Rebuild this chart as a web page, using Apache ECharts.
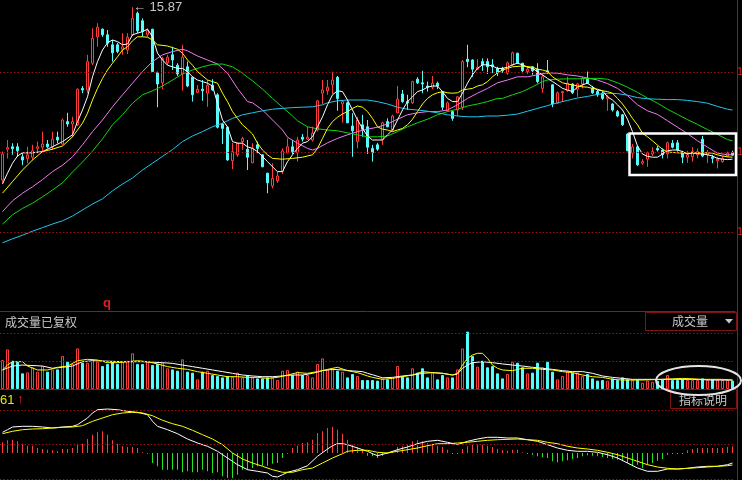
<!DOCTYPE html>
<html><head><meta charset="utf-8">
<script src="https://cdn.jsdelivr.net/npm/echarts@6/dist/echarts.min.js"></script>
<style>html,body{margin:0;padding:0;background:#000;}#c{width:742px;height:480px;}</style>
</head><body><div id="c"></div>
<script>
// ---- price candles (open, close, low, high) ----
const opens = [11.55,12.32,12.38,12.38,12.13,12.09,12.12,12.34,12.37,12.45,12.38,12.62,12.45,13.01,12.95,12.93,13.84,13.80,14.47,15.13,15.32,15.18,14.93,14.93,14.82,14.80,15.18,15.72,15.53,15.18,15.32,14.23,13.98,14.48,14.68,14.42,14.20,14.38,14.12,13.74,13.82,13.72,13.92,13.68,12.95,12.87,12.03,12.18,12.51,12.32,
11.98,12.43,12.18,11.72,11.40,11.53,11.76,12.23,12.38,12.23,12.62,12.57,12.55,12.80,13.72,13.78,13.93,14.12,13.45,13.48,12.90,12.51,12.93,12.88,12.34,12.43,12.57,13.01,12.80,13.23,13.70,13.51,13.48,14.07,13.98,13.90,13.87,13.97,13.76,13.28,13.26,13.30,13.37,14.57,14.55,14.32,14.51,14.51,14.43,14.34,
14.34,14.22,14.43,14.72,14.47,14.26,14.38,14.32,13.84,14.28,13.93,13.47,13.73,13.78,13.95,13.82,13.95,14.07,13.84,13.76,13.72,13.59,13.45,13.26,13.18,12.70,12.22,12.38,11.97,12.07,12.20,12.34,12.30,12.20,12.47,12.48,12.23,12.12,12.13,12.18,12.57,12.18,12.12,12.03,12.01,12.15,12.23];
const closes = [12.20,12.36,12.33,12.28,12.05,12.18,12.28,12.38,12.45,12.38,12.57,12.55,13.05,12.95,13.01,13.82,13.80,14.51,15.09,15.37,15.18,14.97,14.73,14.76,14.88,15.12,15.59,15.28,15.26,15.28,14.26,13.95,14.59,14.62,14.55,14.20,14.62,13.90,13.68,13.82,13.78,13.92,13.80,12.87,12.84,12.05,12.26,12.47,12.59,12.12,
12.34,12.34,11.88,11.48,11.59,11.65,12.28,12.38,12.26,12.55,12.57,12.62,12.72,13.53,13.80,13.87,14.05,13.59,13.51,12.98,12.78,13.05,12.82,12.37,12.23,12.32,12.98,12.88,13.15,13.57,13.51,13.48,14.01,13.98,13.95,13.87,13.97,13.90,13.37,13.48,13.09,13.63,14.51,14.51,14.32,14.37,14.43,14.38,14.38,14.23,
14.28,14.48,14.73,14.47,14.28,14.32,14.28,14.01,14.13,14.23,13.45,13.73,13.76,13.97,13.73,13.95,14.09,13.97,13.73,13.68,13.59,13.63,13.30,13.15,12.93,12.28,12.38,11.93,12.01,12.23,12.26,12.30,12.18,12.48,12.37,12.30,12.12,12.18,12.26,12.26,12.15,12.23,12.09,12.07,12.09,12.22,12.17];
const lows = [11.48,12.09,12.18,12.13,11.92,11.97,12.05,12.22,12.26,12.34,12.30,12.47,12.43,12.88,12.62,12.90,13.72,13.72,14.42,14.88,15.13,14.88,14.51,14.72,14.68,14.70,15.15,15.22,15.13,15.13,14.25,13.37,13.82,14.42,14.30,14.15,13.78,13.87,13.51,13.72,13.53,13.38,13.78,12.84,12.45,12.03,11.82,12.13,12.30,11.80,
11.97,12.22,11.87,11.22,11.34,11.48,11.70,12.22,12.20,12.01,12.51,12.55,12.51,12.76,13.45,13.68,13.70,13.28,12.98,12.97,12.13,12.34,12.63,12.20,12.01,12.28,12.43,12.87,12.76,13.22,13.48,13.30,13.45,13.95,13.72,13.76,13.82,13.82,13.30,13.26,13.03,13.15,13.30,14.37,14.13,14.30,14.28,14.20,14.22,14.15,
14.23,14.18,14.40,14.45,14.22,14.20,14.18,13.97,13.73,14.20,13.37,13.45,13.51,13.76,13.70,13.63,13.84,13.95,13.70,13.63,13.55,13.28,13.26,13.12,12.90,12.27,12.09,11.90,11.93,11.88,12.15,12.26,12.09,12.09,12.34,12.26,11.97,11.98,12.01,12.09,12.12,11.97,11.97,11.84,11.98,12.12,12.15];
const highs = [12.26,12.55,12.47,12.47,12.22,12.38,12.43,12.51,12.76,12.55,12.76,12.76,13.09,13.23,13.13,13.84,13.90,14.68,15.34,15.47,15.34,15.30,15.05,14.98,15.22,15.22,15.87,15.76,15.59,15.34,15.33,14.26,14.63,14.68,14.88,14.47,14.93,14.51,14.13,13.92,14.05,14.05,14.07,13.72,12.98,12.88,12.48,12.48,12.63,12.55,
12.47,12.51,12.20,11.73,11.97,11.76,12.34,12.59,12.55,12.63,12.70,12.88,12.88,13.55,14.05,14.05,14.26,14.15,13.53,13.51,13.22,13.12,13.18,13.05,12.43,12.48,13.01,13.09,13.18,13.90,13.80,13.68,14.03,14.12,14.28,14.01,14.15,14.01,13.78,13.51,13.30,13.65,14.55,14.93,14.57,14.57,14.59,14.59,14.57,14.38,
14.38,14.51,14.76,14.73,14.48,14.37,14.40,14.47,14.18,14.55,13.95,13.76,13.78,14.13,13.97,13.98,14.13,14.26,13.90,13.80,13.76,13.68,13.47,13.30,13.20,12.72,12.45,12.40,12.07,12.26,12.37,12.40,12.34,12.51,12.55,12.55,12.28,12.28,12.37,12.34,12.65,12.30,12.18,12.13,12.15,12.26,12.28];

// ---- price moving averages, read at sample candles: [candle index, value] ----
const ma5 = [[0,11.45],[1,11.72],[2,11.97],[3,12.15],[4,12.23],[6,12.23],[8,12.26],[10,12.38],[12,12.51],[14,12.68],[15,13.01],[16,13.30],[17,13.63],[18,14.13],[19,14.51],[20,14.80],[21,14.98],[22,15.05],[23,15.01],[24,14.93],[25,14.95],[26,15.18],[27,15.22],[28,15.26],[29,15.32],[30,15.13],[31,14.72],[32,14.55],[33,14.42],[34,14.38],[35,14.34],[36,14.34],[37,14.26],[38,14.13],[39,14.05],[40,14.01],[41,13.97],[42,13.90],[43,13.47],[44,13.05],[45,12.88],[46,12.51],[47,12.47],[48,12.47],[49,12.38],[50,12.34],[51,12.26],[53,12.01],[54,11.88],[55,11.76],[56,11.76],[57,12.01],[58,12.18],[59,12.34],[60,12.47],[61,12.51],[62,12.63],[63,12.88],[64,13.13],[65,13.43],[66,13.68],[67,13.78],[68,13.76],[69,13.55],[70,13.30],[71,13.05],[72,12.84],[73,12.65],[74,12.55],[75,12.55],[76,12.55],[77,12.68],[78,12.80],[79,13.05],[80,13.30],[81,13.51],[82,13.63],[83,13.76],[84,13.80],[85,13.87],[86,13.90],[87,13.90],[88,13.76],[89,13.59],[90,13.51],[91,13.51],[92,13.72],[93,13.97],[94,14.18],[95,14.34],[96,14.43],[97,14.43],[98,14.40],[99,14.34],[100,14.34],[101,14.37],[102,14.43],[103,14.47],[104,14.43],[105,14.37],[106,14.34],[107,14.26],[108,14.18],[109,14.09],[110,14.01],[111,13.93],[112,13.84],[113,13.80],[114,13.76],[115,13.87],[116,13.93],[117,13.97],[118,13.88],[119,13.80],[120,13.78],[121,13.63],[122,13.55],[123,13.43],[124,13.30],[125,13.07],[126,12.76],[127,12.40],[128,12.20],[129,12.14],[130,12.12],[131,12.12],[132,12.20],[133,12.28],[134,12.30],[135,12.30],[136,12.26],[137,12.20],[138,12.23],[139,12.21],[140,12.20],[141,12.18],[142,12.15],[143,12.09],[144,12.07],[145,12.06],[146,12.07]];
const ma10 = [[0,11.22],[2,11.51],[4,11.80],[6,12.05],[8,12.26],[10,12.32],[12,12.40],[14,12.63],[16,12.97],[17,13.22],[18,13.55],[19,13.84],[20,14.09],[21,14.30],[22,14.47],[23,14.63],[24,14.80],[25,14.88],[26,15.03],[27,15.13],[28,15.13],[29,15.12],[30,15.05],[31,14.93],[33,14.90],[35,14.82],[36,14.72],[37,14.55],[38,14.42],[39,14.26],[41,14.05],[42,14.01],[43,13.97],[44,13.72],[45,13.51],[46,13.26],[47,13.09],[48,12.93],[49,12.82],[50,12.70],[51,12.47],[52,12.30],[53,12.18],[54,12.09],[56,12.07],[58,12.09],[60,12.12],[62,12.18],[63,12.34],[64,12.59],[65,12.84],[66,13.01],[67,13.12],[68,13.20],[69,13.26],[70,13.34],[71,13.40],[72,13.37],[73,13.26],[74,13.09],[75,12.88],[76,12.82],[77,12.80],[78,12.76],[79,12.80],[80,12.84],[81,12.93],[82,13.07],[83,13.26],[84,13.45],[85,13.59],[86,13.68],[87,13.73],[88,13.76],[89,13.73],[90,13.72],[91,13.73],[92,13.80],[93,13.82],[94,13.84],[95,13.90],[96,13.93],[97,14.01],[98,14.13],[99,14.23],[100,14.30],[101,14.34],[102,14.38],[104,14.40],[106,14.37],[107,14.32],[108,14.30],[109,14.26],[110,14.13],[111,14.05],[112,13.98],[113,13.95],[114,13.93],[115,13.90],[116,13.88],[117,13.87],[118,13.84],[119,13.82],[120,13.78],[121,13.76],[122,13.72],[123,13.59],[124,13.45],[125,13.28],[126,13.09],[127,12.93],[128,12.72],[129,12.63],[130,12.53],[131,12.42],[132,12.32],[133,12.25],[135,12.23],[137,12.22],[139,12.23],[141,12.23],[142,12.22],[143,12.18],[144,12.15],[145,12.13],[146,12.12]];
const ma20 = [[0,10.76],[2,11.03],[4,11.22],[6,11.38],[8,11.56],[10,11.76],[12,11.92],[14,12.13],[16,12.43],[18,12.76],[20,13.05],[22,13.38],[24,13.68],[26,13.97],[28,14.26],[30,14.51],[32,14.68],[34,14.76],[36,14.82],[37,14.78],[39,14.65],[41,14.55],[43,14.45],[45,14.22],[47,13.84],[49,13.51],[50,13.48],[52,13.30],[54,13.05],[56,12.80],[57,12.62],[59,12.47],[61,12.34],[62,12.30],[63,12.34],[65,12.48],[67,12.59],[69,12.68],[71,12.76],[73,12.82],[75,12.87],[77,12.95],[79,13.07],[81,13.18],[83,13.23],[85,13.26],[87,13.26],[89,13.30],[91,13.43],[93,13.59],[95,13.72],[97,13.84],[99,13.98],[101,14.05],[103,14.13],[105,14.13],[107,14.18],[109,14.23],[111,14.22],[113,14.18],[115,14.15],[117,14.10],[119,14.05],[121,13.96],[123,13.84],[125,13.66],[127,13.43],[129,13.28],[131,13.19],[133,13.03],[135,12.87],[137,12.71],[139,12.53],[141,12.37],[143,12.22],[145,12.18],[146,12.18]];
const ma30 = [[0,10.45],[2,10.68],[4,10.84],[6,10.97],[8,11.13],[10,11.30],[12,11.48],[14,11.75],[16,12.00],[18,12.27],[20,12.58],[22,12.93],[24,13.18],[26,13.47],[28,13.68],[30,13.78],[32,13.90],[34,14.05],[36,14.20],[38,14.30],[40,14.38],[42,14.44],[44,14.45],[46,14.38],[48,14.22],[49,14.12],[50,14.03],[52,13.82],[54,13.59],[56,13.37],[58,13.15],[59,13.03],[61,12.88],[63,12.83],[65,12.80],[67,12.78],[69,12.73],[71,12.68],[73,12.63],[75,12.63],[77,12.65],[79,12.76],[81,12.88],[83,12.98],[85,13.07],[87,13.18],[89,13.26],[91,13.32],[93,13.40],[95,13.45],[97,13.51],[99,13.59],[100,13.59],[102,13.68],[104,13.76],[106,13.88],[108,14.01],[109,14.05],[111,14.07],[113,14.08],[115,14.08],[117,14.09],[119,14.09],[121,14.07],[123,13.98],[125,13.87],[127,13.74],[129,13.60],[131,13.47],[133,13.32],[135,13.19],[137,13.06],[139,12.94],[141,12.81],[143,12.69],[145,12.56],[146,12.53]];
const ma60 = [[0,9.98],[2,10.08],[4,10.17],[6,10.27],[8,10.36],[10,10.45],[12,10.53],[14,10.65],[16,10.80],[18,10.95],[20,11.08],[22,11.28],[24,11.45],[26,11.60],[28,11.80],[30,11.97],[32,12.14],[34,12.31],[36,12.51],[38,12.65],[40,12.76],[42,12.88],[44,12.97],[46,13.09],[48,13.18],[50,13.23],[52,13.28],[54,13.32],[56,13.34],[58,13.36],[60,13.37],[62,13.38],[64,13.43],[65,13.48],[67,13.53],[69,13.55],[71,13.55],[73,13.55],[75,13.51],[77,13.45],[79,13.37],[81,13.32],[83,13.30],[85,13.27],[87,13.23],[89,13.18],[91,13.15],[93,13.13],[95,13.13],[97,13.15],[99,13.15],[101,13.17],[103,13.20],[105,13.27],[107,13.34],[109,13.41],[111,13.48],[113,13.54],[115,13.60],[117,13.64],[119,13.69],[121,13.72],[123,13.71],[125,13.67],[127,13.61],[129,13.58],[131,13.57],[133,13.56],[135,13.56],[137,13.54],[139,13.51],[141,13.47],[143,13.39],[145,13.32],[146,13.30]];

// ---- volume ----
const volume = [2.07,2.83,2.02,1.95,1.12,1.19,1.55,1.24,1.64,1.24,1.40,1.40,2.36,1.95,1.79,2.90,1.88,1.88,2.12,1.95,1.64,1.79,1.95,1.79,1.95,2.02,2.55,1.79,1.79,1.95,1.71,1.79,1.88,1.48,1.40,1.31,2.12,1.24,1.17,0.69,1.24,1.31,1.00,0.93,0.83,0.93,0.88,1.17,0.83,1.00,
0.83,0.76,0.76,0.83,0.83,0.64,1.31,1.36,1.00,1.24,1.00,1.00,0.83,1.79,2.19,1.40,1.40,1.31,1.24,0.83,1.07,0.93,0.64,0.64,0.64,0.60,0.76,0.69,0.83,1.64,0.93,0.83,1.48,1.17,1.48,0.83,1.17,0.69,1.00,0.83,0.83,1.40,2.90,4.10,2.36,1.60,2.02,1.55,1.64,1.12,
0.76,1.07,1.95,1.88,1.55,1.12,1.17,1.88,1.55,1.95,1.24,0.69,0.93,1.24,1.17,1.17,0.93,1.07,0.76,0.60,0.64,0.60,0.76,0.64,0.83,0.69,0.64,0.64,0.45,0.60,0.52,0.60,0.69,1.00,0.64,0.64,0.69,0.64,0.64,0.64,0.76,0.64,0.69,0.64,0.64,0.64,0.60];
const volMaWhite = [[0,1.36],[2,1.64],[4,1.71],[8,1.64],[10,1.48],[12,1.55],[14,1.64],[16,1.95],[18,2.02],[20,2.00],[24,1.95],[28,1.95],[32,1.88],[34,1.83],[36,1.71],[38,1.60],[40,1.48],[42,1.36],[44,1.24],[46,1.12],[48,1.00],[50,0.93],[52,0.88],[54,0.88],[56,0.93],[58,1.00],[60,1.00],[62,1.12],[64,1.31],[66,1.40],[68,1.36],[70,1.29],[72,1.24],[73,1.12],[74,1.02],[76,0.80],[78,0.83],[80,0.93],[82,1.00],[84,1.12],[86,1.17],[88,1.12],[90,1.00],[91,1.07],[92,1.48],[93,1.71],[94,1.88],[96,1.95],[98,1.88],[100,1.79],[102,1.71],[104,1.64],[106,1.55],[108,1.48],[110,1.40],[112,1.31],[114,1.24],[116,1.24],[118,1.12],[120,0.93],[122,0.83],[124,0.76],[126,0.69],[130,0.69],[134,0.69],[138,0.69],[142,0.64],[146,0.64]];
const volMaYellow = [[0,1.36],[1,1.71],[2,1.95],[4,1.95],[5,1.64],[7,1.36],[9,1.36],[11,1.55],[13,1.64],[15,2.02],[17,2.12],[19,2.07],[21,1.88],[23,1.88],[25,1.95],[27,2.02],[29,1.95],[31,1.79],[33,1.60],[35,1.48],[37,1.40],[39,1.24],[41,1.12],[43,1.00],[45,0.88],[47,0.88],[49,0.83],[51,0.83],[53,0.76],[55,0.83],[57,1.00],[59,1.17],[61,1.12],[63,1.24],[65,1.40],[67,1.55],[69,1.31],[71,1.17],[73,0.93],[74,0.83],[76,0.69],[78,0.76],[80,0.88],[82,1.00],[84,1.24],[86,1.17],[88,1.12],[90,1.00],[91,1.12],[92,1.71],[93,2.19],[94,2.43],[95,2.55],[96,2.55],[97,2.19],[98,1.71],[99,1.48],[100,1.36],[102,1.31],[104,1.48],[106,1.48],[108,1.40],[110,1.36],[112,1.24],[114,1.17],[116,1.00],[118,0.88],[120,0.83],[122,0.69],[124,0.64],[128,0.64],[132,0.69],[136,0.76],[140,0.69],[144,0.69],[146,0.64]];

// ---- MACD ----
const macdHist = [0.107,0.127,0.133,0.117,0.093,0.073,0.073,0.05,0.04,0.033,0.027,0.017,0.04,0.04,0.05,0.093,0.093,0.14,0.183,0.207,0.217,0.183,0.127,0.093,0.067,0.06,0.06,0.05,0.007,-0.007,-0.10,-0.133,-0.167,-0.167,-0.167,-0.167,-0.193,-0.183,-0.193,-0.193,-0.167,-0.183,-0.20,-0.193,-0.233,-0.25,-0.25,-0.217,-0.167,-0.167,
-0.15,-0.133,-0.127,-0.127,-0.107,-0.10,-0.05,-0.007,0.05,0.073,0.10,0.107,0.133,0.20,0.217,0.25,0.26,0.233,0.193,0.133,0.083,0.06,0.033,-0.027,-0.033,-0.05,-0.027,-0.007,0.017,0.06,0.067,0.083,0.117,0.127,0.117,0.10,0.083,0.073,0.06,0.033,-0.01,-0.01,0.04,0.067,0.083,0.083,0.083,0.073,0.06,0.04,
0.027,0.023,0.033,0.033,0.005,-0.01,-0.017,-0.033,-0.043,-0.05,-0.083,-0.093,-0.083,-0.073,-0.06,-0.05,-0.033,-0.023,-0.027,-0.033,-0.04,-0.05,-0.06,-0.067,-0.083,-0.10,-0.133,-0.117,-0.15,-0.117,-0.10,-0.077,-0.06,-0.017,-0.01,-0.01,-0.01,0.027,0.04,0.05,0.05,0.05,0.05,0.05,0.05,0.06,0.067];
const dif = [[0,0.207],[1,0.233],[2,0.26],[4,0.267],[6,0.267],[8,0.26],[10,0.25],[12,0.26],[14,0.267],[15,0.283],[17,0.35],[18,0.40],[19,0.433],[21,0.44],[23,0.433],[25,0.417],[27,0.407],[29,0.383],[30,0.317],[31,0.267],[33,0.233],[35,0.193],[37,0.14],[39,0.10],[41,0.067],[43,0.017],[45,-0.05],[47,-0.117],[49,-0.167],[51,-0.183],[53,-0.20],[54,-0.233],[55,-0.24],[56,-0.217],[57,-0.193],[59,-0.167],[61,-0.127],[63,-0.033],[65,0.04],[66,0.073],[67,0.093],[68,0.093],[69,0.083],[71,0.05],[73,0.017],[74,-0.007],[75,-0.027],[77,0],[79,0.033],[81,0.06],[83,0.093],[85,0.117],[87,0.127],[89,0.107],[91,0.083],[93,0.117],[95,0.14],[97,0.157],[99,0.157],[101,0.15],[103,0.15],[105,0.133],[107,0.117],[109,0.083],[111,0.05],[113,0.027],[115,0.017],[117,0.017],[119,0.007],[121,-0.017],[123,-0.05],[125,-0.10],[127,-0.15],[129,-0.183],[131,-0.183],[133,-0.16],[135,-0.16],[137,-0.153],[139,-0.14],[141,-0.133],[143,-0.133],[145,-0.117],[146,-0.10]];
const dea = [[0,0.193],[2,0.217],[4,0.233],[6,0.24],[8,0.243],[10,0.25],[12,0.257],[14,0.26],[16,0.273],[18,0.317],[20,0.35],[22,0.383],[24,0.40],[26,0.407],[28,0.40],[30,0.373],[32,0.327],[34,0.293],[36,0.267],[38,0.227],[40,0.183],[42,0.14],[44,0.083],[46,0],[48,-0.06],[50,-0.10],[52,-0.133],[54,-0.167],[56,-0.193],[58,-0.193],[60,-0.167],[62,-0.15],[64,-0.10],[66,-0.05],[68,-0.007],[69,0.017],[71,0.027],[73,0.027],[74,0.017],[75,0.007],[77,0],[79,0.017],[81,0.033],[83,0.05],[85,0.073],[87,0.093],[89,0.093],[91,0.10],[93,0.107],[95,0.117],[97,0.127],[99,0.133],[103,0.14],[105,0.133],[107,0.127],[109,0.107],[111,0.093],[113,0.067],[115,0.05],[117,0.04],[119,0.027],[121,0.007],[123,-0.017],[125,-0.05],[127,-0.083],[129,-0.117],[131,-0.14],[133,-0.153],[135,-0.16],[137,-0.153],[139,-0.147],[141,-0.14],[143,-0.133],[145,-0.127],[146,-0.12]];

// ---- gridline values and labels ----
const priceGrid = [14.25, 12.25, 10.25];
const volGrid = [2, 4];
const macdGrid = [0.43, 0.087, -0.26];
const peak = {index: 26, value: 15.87};

const days = opens.map((_, i) => 'D' + (i + 1));
const RED = '#ff3c3c', CYAN = '#54fcfc', DARKRED = '#a31212', GRIDRED = '#9a1010';
const candleData = opens.map((o, i) => [o, closes[i], lows[i], highs[i]]);
const volData = volume.map((v, i) => ({
  value: v,
  itemStyle: closes[i] >= opens[i]
    ? {color: '#000', borderColor: RED, borderWidth: 1}
    : {color: CYAN, borderColor: CYAN, borderWidth: 1}
}));
const histData = macdHist.map(v => ({value: v, itemStyle: {color: v >= 0 ? RED : '#1fe81f'}}));

function gridLines(vals) {
  return {
    silent: true, symbol: ['none', 'none'],
    lineStyle: {color: GRIDRED, type: [1.5, 2], width: 1},
    label: {show: true, position: 'end', distance: 2, color: '#d02020', fontSize: 11, formatter: p => String(p.value)},
    data: vals.map(v => ({yAxis: v}))
  };
}
function line(data, color, xi, z) {
  return {type: 'line', data: data, xAxisIndex: xi, yAxisIndex: xi, symbol: 'none', showSymbol: false,
    lineStyle: {color: color, width: 1}, itemStyle: {color: color}, z: z || 3, silent: true};
}
const FONT = "'Liberation Sans','Noto Sans CJK SC',sans-serif";
const CJK = "'Noto Sans CJK SC',sans-serif";

const axisCommon = {axisTick: {show: false}, axisLabel: {show: false}, splitLine: {show: false}};
const option = {
  backgroundColor: '#000',
  animation: false,
  grid: [
    {left: 0, right: 7, top: 0, height: 311},
    {left: 0, right: 7, top: 311, height: 78},
    {left: 0, right: 7, top: 389, height: 91}
  ],
  xAxis: [0, 1, 2].map(g => Object.assign({
    type: 'category', gridIndex: g, data: days, boundaryGap: true,
    axisLine: {show: g < 2, onZero: false, lineStyle: {color: DARKRED, width: 1}}
  }, axisCommon)),
  yAxis: [
    Object.assign({gridIndex: 0, min: 8.275, max: 16.05}, axisCommon),
    Object.assign({gridIndex: 1, min: 0, max: 78 / 14}, axisCommon),
    Object.assign({gridIndex: 2, min: -0.27, max: 0.64}, axisCommon)
  ].map(a => Object.assign(a, {type: 'value', position: 'right', offset: 2,
    axisLine: {show: true, onZero: false, lineStyle: {color: DARKRED, width: 1}}})),
  series: [
    {type: 'candlestick', xAxisIndex: 0, yAxisIndex: 0, data: candleData, barWidth: 3, z: 2, silent: true,
      itemStyle: {color: '#000', color0: CYAN, borderColor: RED, borderColor0: CYAN, borderWidth: 1},
      markLine: gridLines(priceGrid),
      markPoint: {symbol: 'circle', symbolSize: 1, itemStyle: {color: 'rgba(0,0,0,0)'},
        label: {show: true, position: 'right', distance: 0, color: '#c8c8c8', fontSize: 13, fontFamily: FONT,
          formatter: p => '\u2190 ' + p.value.toFixed(2)},
        data: [{coord: [peak.index, peak.value], value: peak.value}]}
    },
    line(ma5, '#ffffff', 0, 4),
    line(ma10, '#ffff00', 0, 4),
    line(ma20, '#f07cf0', 0, 3),
    line(ma30, '#12d612', 0, 3),
    line(ma60, '#1ec8ee', 0, 3),
    {type: 'bar', xAxisIndex: 1, yAxisIndex: 1, data: volData, barWidth: 3, silent: true, z: 2,
      markLine: Object.assign(gridLines(volGrid), {label: {show: false}})},
    line(volMaWhite, '#ffffff', 1, 4),
    line(volMaYellow, '#ffff00', 1, 4),
    {type: 'bar', xAxisIndex: 2, yAxisIndex: 2, data: histData, barWidth: 1, silent: true, z: 2,
      markLine: Object.assign(gridLines(macdGrid), {label: {show: false}})},
    line(dif, '#ffffff', 2, 4),
    line(dea, '#ffff00', 2, 4)
  ],
  graphic: [
    {type: 'rect', z: 100, shape: {x: 629.5, y: 133.5, width: 106.5, height: 41.5}, style: {fill: 'none', stroke: '#ffffff', lineWidth: 2.5}},
    {type: 'text', z: 100, x: 5, y: 322, style: {text: '成交量已复权', fill: '#c8c8c8', font: '12px ' + CJK, verticalAlign: 'middle'}},
    {type: 'rect', z: 100, shape: {x: 645.5, y: 312.5, width: 91, height: 18}, style: {fill: '#000', stroke: '#7c1414', lineWidth: 1}},
    {type: 'text', z: 101, x: 672, y: 321.5, style: {text: '成交量', fill: '#c8c8c8', font: '12px ' + CJK, verticalAlign: 'middle'}},
    {type: 'polygon', z: 101, shape: {points: [[725, 319], [733, 319], [729, 323.5]]}, style: {fill: '#c8c8c8'}},
    {type: 'rect', z: 100, shape: {x: 670.5, y: 389.5, width: 66, height: 19}, style: {fill: '#000', stroke: '#7c1414', lineWidth: 1}},
    {type: 'text', z: 101, x: 679, y: 400, style: {text: '指标说明', fill: '#c8c8c8', font: '12px ' + CJK, verticalAlign: 'middle'}},
    {type: 'ellipse', z: 102, shape: {cx: 698.5, cy: 380.5, rx: 42.5, ry: 14.5}, style: {fill: 'none', stroke: '#e4e4e4', lineWidth: 2}},
    {type: 'text', z: 100, x: 103, y: 303, style: {text: 'q', fill: '#e02020', font: 'bold 13px ' + FONT, verticalAlign: 'middle'}},
    {type: 'text', z: 100, x: 0, y: 400, style: {text: '61', fill: '#e8e800', font: '13px ' + FONT, verticalAlign: 'middle'}},
    {type: 'text', z: 100, x: 17, y: 399, style: {text: '\u2191', fill: '#ff3030', font: 'bold 13px ' + FONT, verticalAlign: 'middle'}}
  ]
};
const chart = echarts.init(document.getElementById('c'), null, {renderer: 'canvas'});
chart.setOption(option);
</script>
</body></html>
